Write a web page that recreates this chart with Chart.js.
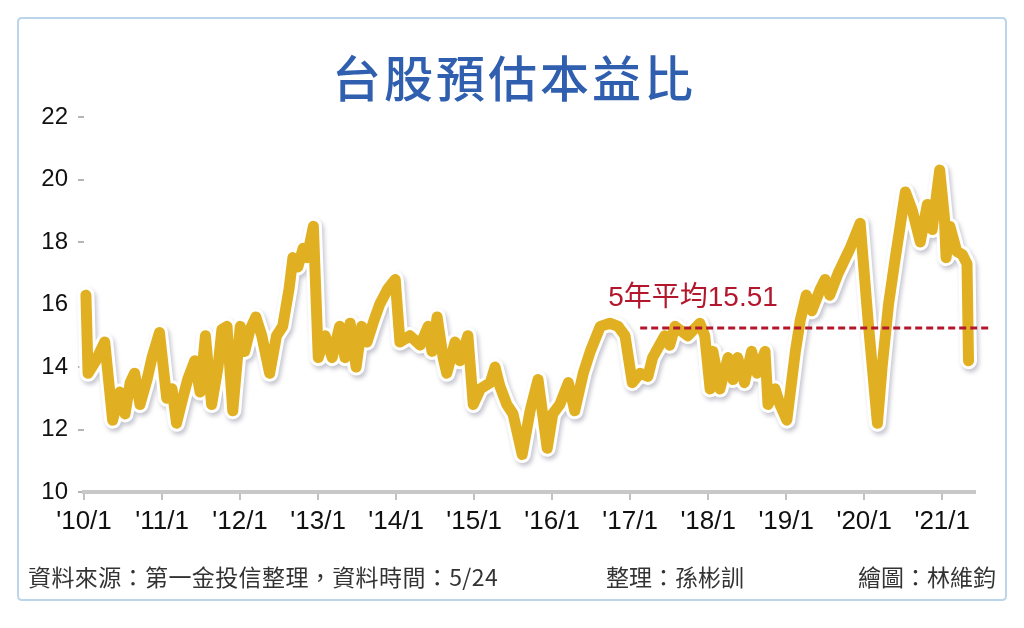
<!DOCTYPE html>
<html>
<head>
<meta charset="utf-8">
<script src="https://cdn.jsdelivr.net/npm/chart.js@4.4.1/dist/chart.umd.min.js"></script>
<style>
html,body{margin:0;padding:0;background:#fff;}
canvas{display:block;}
</style>
</head>
<body>
<canvas id="c" width="1024" height="628"></canvas>
<script>
const titleText = '台股預估本益比';
const sourceText = '資料來源：第一金投信整理，資料時間：5/24';
const editorText = '整理：孫彬訓';
const artistText = '繪圖：林維鈞';
const avgLabel = '5年平均15.51';

const dates = [
'2010-01-10','2010-01-20','2010-02-25','2010-04-08','2010-05-15','2010-06-18','2010-07-12','2010-08-05','2010-08-26','2010-09-20','2010-10-23','2010-11-15','2010-12-20',
'2011-01-23','2011-02-17','2011-03-10','2011-04-08','2011-05-01','2011-06-03','2011-06-28','2011-07-23','2011-08-21','2011-09-20','2011-10-08','2011-11-01','2011-11-28',
'2012-01-02','2012-01-23','2012-02-17','2012-03-15','2012-04-12','2012-05-19','2012-06-20','2012-07-19','2012-08-18','2012-09-05','2012-09-28','2012-10-23','2012-11-10','2012-12-10',
'2013-01-02','2013-02-03','2013-03-08','2013-04-12','2013-05-07','2013-05-31','2013-06-28','2013-07-24','2013-08-18','2013-09-20','2013-10-16','2013-11-23','2013-12-28',
'2014-01-19','2014-03-07','2014-04-24','2014-05-31','2014-06-18','2014-07-12','2014-08-09','2014-08-26','2014-10-04','2014-10-27','2014-12-03','2014-12-28',
'2015-01-30','2015-03-18','2015-04-09','2015-05-01','2015-06-03','2015-07-02','2015-08-14','2015-09-20','2015-10-27','2015-12-09',
'2016-01-04','2016-02-06','2016-03-17','2016-04-16','2016-05-26','2016-06-28','2016-08-14','2016-09-28','2016-11-06','2016-12-08',
'2017-01-11','2017-02-17','2017-03-25','2017-04-16','2017-06-12','2017-07-05','2017-07-30','2017-09-28','2017-11-23','2017-12-16',
'2018-01-10','2018-01-23','2018-02-25','2018-04-04','2018-04-27','2018-05-19','2018-06-20','2018-07-23','2018-08-18','2018-09-24','2018-10-08','2018-11-10','2018-12-03',
'2019-01-04','2019-02-13','2019-03-08','2019-04-05','2019-05-01','2019-06-10','2019-07-02','2019-07-24','2019-09-01','2019-10-27','2019-12-13',
'2020-01-19','2020-03-03','2020-03-25','2020-04-24','2020-05-26','2020-07-12','2020-08-14','2020-09-20','2020-10-23','2020-11-15','2020-12-20',
'2021-01-11','2021-01-19','2021-02-06','2021-03-10','2021-04-05','2021-04-27','2021-05-04'
];
const peValues = [
16.3,13.8,14.2,14.8,12.3,13.2,12.5,13.5,13.8,12.8,13.6,14.3,15.1,
13.0,13.3,12.2,13.0,13.6,14.2,13.2,15.0,12.8,14.0,15.2,15.3,12.6,
15.3,14.5,15.2,15.6,15.0,13.8,15.0,15.3,16.5,17.5,17.2,17.8,17.5,18.5,
14.3,15.0,14.3,15.3,14.3,15.4,14.0,15.3,14.8,15.5,16.0,16.5,16.8,
14.8,15.0,14.7,15.3,14.5,15.6,14.3,13.8,14.8,14.2,15.0,12.8,
13.3,13.5,14.0,13.4,12.8,12.5,11.2,12.6,13.6,11.4,
12.5,12.8,13.5,12.6,13.8,14.5,15.3,15.4,15.3,15.0,
13.5,13.8,13.7,14.3,15.0,14.7,15.3,15.0,15.4,15.0,
13.3,14.5,13.3,14.3,13.6,14.3,13.5,14.5,13.8,14.5,12.8,13.3,12.8,
12.3,14.5,15.5,16.3,15.8,16.5,16.8,16.3,17.0,17.8,18.6,
15.5,12.2,14.0,16.0,17.5,19.6,19.0,18.0,19.2,18.4,20.3,
18.8,17.5,18.5,17.7,17.6,17.3,14.2
];
const avgLevel = 15.25;
const avgDates = ['2017-02-17','2021-08-20'];
const yTicks = [10,12,14,16,18,20,22];
const xYears = [2010,2011,2012,2013,2014,2015,2016,2017,2018,2019,2020,2021];

function toYear(s){
  const d = new Date(s+'T00:00:00Z');
  const y = d.getUTCFullYear();
  const a = Date.UTC(y,0,1), b = Date.UTC(y+1,0,1);
  return y + (d.getTime()-a)/(b-a);
}
const pePoints = dates.map((d,i)=>({x:toYear(d), y:peValues[i]}));
const avgPoints = avgDates.map(d=>({x:toYear(d), y:avgLevel}));

const deco = {
  id:'deco',
  beforeDraw(chart){
    const ctx = chart.ctx;
    ctx.save();
    ctx.fillStyle='#fff';
    ctx.fillRect(0,0,chart.width,chart.height);
    ctx.strokeStyle='#bcd5ea';
    ctx.lineWidth=2;
    const r=4,x=18,y=18,w=988,h=582;
    ctx.beginPath();
    ctx.moveTo(x+r,y);ctx.lineTo(x+w-r,y);ctx.quadraticCurveTo(x+w,y,x+w,y+r);
    ctx.lineTo(x+w,y+h-r);ctx.quadraticCurveTo(x+w,y+h,x+w-r,y+h);
    ctx.lineTo(x+r,y+h);ctx.quadraticCurveTo(x,y+h,x,y+h-r);
    ctx.lineTo(x,y+r);ctx.quadraticCurveTo(x,y,x+r,y);
    ctx.stroke();
    ctx.fillStyle='#2f5fae';
    ctx.font='500 49px "Noto Sans CJK TC"';
    ctx.letterSpacing='3px';
    ctx.textAlign='center';ctx.textBaseline='middle';
    ctx.fillText(titleText,514,78);
    ctx.letterSpacing='0.4px';
    ctx.fillStyle='#333';
    ctx.font='23px "Noto Sans CJK TC"';
    ctx.textAlign='left';
    ctx.fillText(sourceText,28,577);
    ctx.letterSpacing='0px';
    ctx.fillText(editorText,606,577);
    ctx.textAlign='right';
    ctx.fillText(artistText,996,577);
    ctx.restore();
  },
  beforeDatasetDraw(chart,args){
    if(args.index===2){
      const ctx=chart.ctx;
      ctx.save();
      ctx.shadowColor='rgba(90,90,120,0.35)';
      ctx.shadowBlur=4;ctx.shadowOffsetX=2;ctx.shadowOffsetY=3;
    }
  },
  afterDatasetDraw(chart,args){
    if(args.index===2){chart.ctx.restore();}
  },
  afterDraw(chart){
    const ctx=chart.ctx;
    const xs=chart.scales.x, ys=chart.scales.y;
    ctx.save();
    ctx.fillStyle='#b3172d';
    ctx.font='28px "Liberation Sans", "Noto Sans CJK TC"';
    ctx.textAlign='left';ctx.textBaseline='middle';
    ctx.fillText(avgLabel, xs.getPixelForValue(toYear('2016-09-20')), ys.getPixelForValue(avgLevel)-30);
    ctx.restore();
  }
};

new Chart(document.getElementById('c'),{
  type:'line',
  data:{datasets:[
    {data:avgPoints,borderColor:'#b3172d',borderWidth:3,borderDash:[7,4],pointRadius:0,clip:false,tension:0},
    {data:pePoints,borderColor:'#e1b022',borderWidth:11,pointRadius:0,tension:0,borderJoinStyle:'round',borderCapStyle:'round',clip:false},
    {data:pePoints,borderColor:'#ffffff',borderWidth:17,pointRadius:0,tension:0,borderJoinStyle:'round',borderCapStyle:'round',clip:false}
  ]},
  options:{
    responsive:false,animation:false,
    devicePixelRatio:1,
    layout:{padding:{top:117,right:49,bottom:86,left:0}},
    plugins:{legend:{display:false},tooltip:{enabled:false},title:{display:false}},
    scales:{
      x:{type:'linear',min:2010,max:2021.42,
        afterFit(s){s.height=50;},
        afterBuildTicks(s){s.ticks=xYears.map(v=>({value:v}));},
        grid:{drawOnChartArea:false,drawTicks:true,tickLength:8,color:'#c2c2c2',lineWidth:2},
        border:{display:true,color:'#c8c8c8',width:4},
        ticks:{color:'#111',font:{family:'"Liberation Sans Narrow", "Liberation Sans"',size:26},padding:6,maxRotation:0,autoSkip:false,
          callback:v=>"'"+String(v).slice(2)+'/1'}
      },
      y:{min:10,max:22,
        afterFit(s){s.width=84;},
        afterBuildTicks(s){s.ticks=yTicks.map(v=>({value:v}));},
        grid:{drawOnChartArea:false,drawTicks:true,tickLength:6,color:'#b5b5b5',lineWidth:2},
        border:{display:false},
        ticks:{color:'#111',font:{family:'"Liberation Sans"',size:24},padding:10}
      }
    }
  },
  plugins:[deco]
});
</script>
</body>
</html>
